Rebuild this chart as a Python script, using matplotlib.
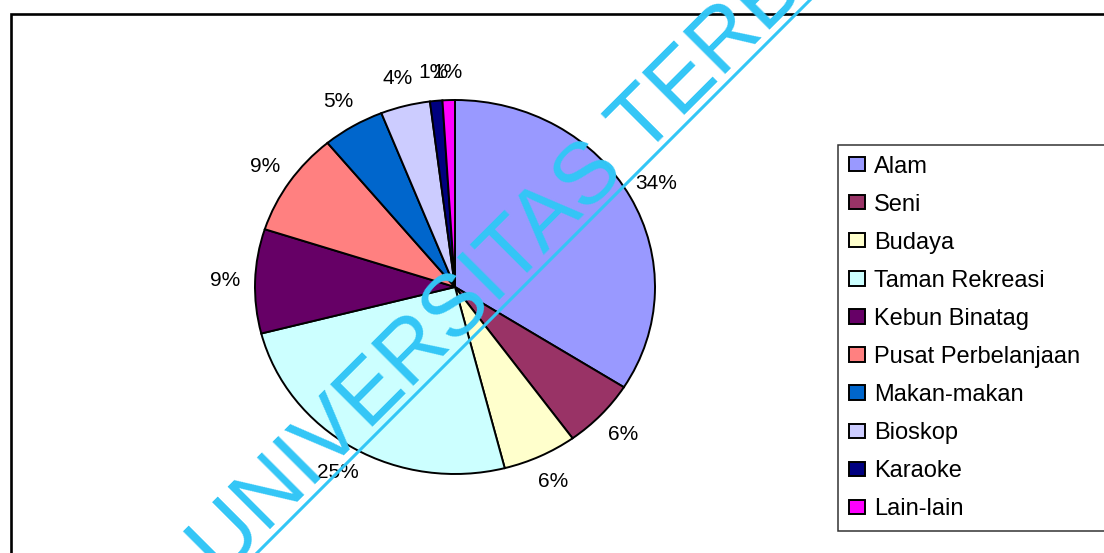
import matplotlib
matplotlib.use('Agg')
import matplotlib.pyplot as plt

plt.rcParams['font.family'] = ['Liberation Sans', 'DejaVu Sans']

# tourist destination preferences (percent)
categories = ['Alam', 'Seni', 'Budaya', 'Taman Rekreasi', 'Kebun Binatag',
              'Pusat Perbelanjaan', 'Makan-makan', 'Bioskop', 'Karaoke', 'Lain-lain']
shares = [34, 6, 6, 25, 9, 9, 5, 4, 1, 1]
colors = ['#9999FF', '#993366', '#FFFFCC', '#CCFFFF', '#660066',
          '#FF8080', '#0066CC', '#CCCCFF', '#000080', '#FF00FF']

watermark = 'UNIVERSITAS TERBUKA'

W, H = 1104, 553
fig = plt.figure(figsize=(W / 100, H / 100), dpi=100)


def px_axes(left, top, width, height):
    # axes placed by pixel box (origin top-left)
    return fig.add_axes([left / W, 1 - (top + height) / H, width / W, height / H])


# outer chart border (runs off the right and bottom edges)
bg = px_axes(0, 0, W, H)
bg.set_xlim(0, W)
bg.set_ylim(H, 0)
bg.axis('off')
bg.plot([11, 11, W + 10], [H + 10, 14, 14], color='black', lw=1.9,
        solid_joinstyle='miter', clip_on=False)

# pie, slightly wider than tall
ax = px_axes(255, 100, 400, 374)
wedges, texts, autotexts = ax.pie(
    shares, colors=colors, startangle=90, counterclock=False,
    autopct='%1.0f%%', pctdistance=1.15,
    wedgeprops=dict(edgecolor='black', linewidth=1.4),
    textprops=dict(fontsize=15, color='black'))
ax.set_aspect('auto')
ax.set_xlim(-1, 1)
ax.set_ylim(-1, 1)
for w in wedges:
    w.set_clip_on(False)

# legend box is wider than the figure, so it runs off the right edge
leg = fig.legend(wedges, categories, loc='upper left', mode='expand',
                 bbox_to_anchor=(838 / W, 0, 300 / W, 1 - 145 / H),
                 bbox_transform=fig.transFigure,
                 borderaxespad=0, frameon=True, fancybox=False, edgecolor='black',
                 fontsize=17, handlelength=0.68, handleheight=0.55,
                 handletextpad=0.4, labelspacing=0.68, borderpad=0.45)
leg.get_frame().set_linewidth(1.1)

# watermark overlay
top = px_axes(0, 0, W, H)
top.set_xlim(0, W)
top.set_ylim(H, 0)
top.axis('off')
top.text(221, 578, watermark, rotation=45, rotation_mode='anchor',
         ha='left', va='baseline', fontsize=62.6, color='#33C6F6', clip_on=False)
top.plot([230, 830], [580, -20], color='#33C6F6', lw=2.2)

fig.savefig('out.png', dpi=100)
